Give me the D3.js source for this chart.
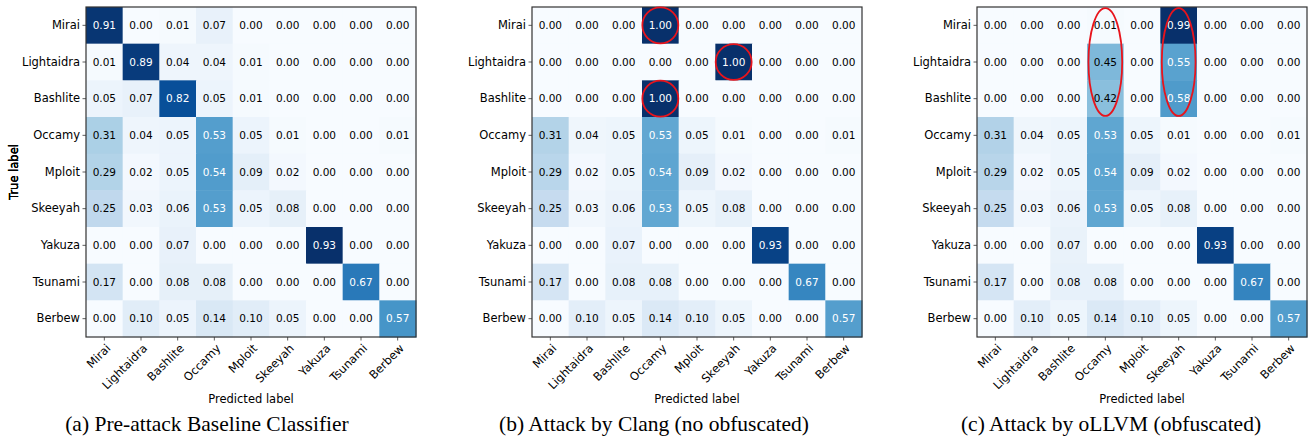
<!DOCTYPE html>
<html>
<head>
<meta charset="UTF-8">
<script src="https://cdn.jsdelivr.net/npm/d3@7"></script>
<style>
    body { margin: 0; background: #fff; }
    svg { display: block; }
    .tick-label, .axis-title { font-family: "DejaVu Sans", sans-serif; font-size: 11.5px; font-weight: normal; fill: #000; }
    .cell-text { font-family: "DejaVu Sans", sans-serif; font-size: 10.5px; }
    .caption { font-family: "Liberation Serif", "Times New Roman", serif; font-size: 21.5px; fill: #000; }
</style>
</head>
<body>
<svg id="chart" width="1311" height="439"></svg>
<script>
// class names, same order on both axes
var labels = ["Mirai", "Lightaidra", "Bashlite", "Occamy", "Mploit", "Skeeyah", "Yakuza", "Tsunami", "Berbew"];

// first three rows differ between the panels
var baselineTop = [
    [0.91, 0.00, 0.01, 0.07, 0.00, 0.00, 0.00, 0.00, 0.00],
    [0.01, 0.89, 0.04, 0.04, 0.01, 0.00, 0.00, 0.00, 0.00],
    [0.05, 0.07, 0.82, 0.05, 0.01, 0.00, 0.00, 0.00, 0.00]
];
var clangTop = [
    [0.00, 0.00, 0.00, 1.00, 0.00, 0.00, 0.00, 0.00, 0.00],
    [0.00, 0.00, 0.00, 0.00, 0.00, 1.00, 0.00, 0.00, 0.00],
    [0.00, 0.00, 0.00, 1.00, 0.00, 0.00, 0.00, 0.00, 0.00]
];
var ollvmTop = [
    [0.00, 0.00, 0.00, 0.01, 0.00, 0.99, 0.00, 0.00, 0.00],
    [0.00, 0.00, 0.00, 0.45, 0.00, 0.55, 0.00, 0.00, 0.00],
    [0.00, 0.00, 0.00, 0.42, 0.00, 0.58, 0.00, 0.00, 0.00]
];
// rows Occamy..Berbew are identical in all three panels
var sharedRows = [
    [0.31, 0.04, 0.05, 0.53, 0.05, 0.01, 0.00, 0.00, 0.01],
    [0.29, 0.02, 0.05, 0.54, 0.09, 0.02, 0.00, 0.00, 0.00],
    [0.25, 0.03, 0.06, 0.53, 0.05, 0.08, 0.00, 0.00, 0.00],
    [0.00, 0.00, 0.07, 0.00, 0.00, 0.00, 0.93, 0.00, 0.00],
    [0.17, 0.00, 0.08, 0.08, 0.00, 0.00, 0.00, 0.67, 0.00],
    [0.00, 0.10, 0.05, 0.14, 0.10, 0.05, 0.00, 0.00, 0.57]
];

var captions = ["(a) Pre-attack Baseline Classifier", "(b) Attack by Clang (no obfuscated)", "(c) Attack by oLLVM (obfuscated)"];

// red highlight marks: row/col of the first cell, how many rows it covers
var clangMarks = [{ row: 0, col: 3, span: 1 }, { row: 1, col: 5, span: 1 }, { row: 2, col: 3, span: 1 }];
var ollvmMarks = [{ row: 0, col: 3, span: 3 }, { row: 0, col: 5, span: 3 }];

var panels = [
    { matrix: baselineTop.concat(sharedRows), caption: captions[0], marks: [], left: 86, capX: 207 },
    { matrix: clangTop.concat(sharedRows), caption: captions[1], marks: clangMarks, left: 532, capX: 654 },
    { matrix: ollvmTop.concat(sharedRows), caption: captions[2], marks: ollvmMarks, left: 977, capX: 1111 }
];

// matplotlib "Blues" (piecewise linear over the colorbrewer stops)
var bluesStops = ["#f7fbff", "#deebf7", "#c6dbef", "#9ecae1", "#6baed6", "#4292c6", "#2171b5", "#08519c", "#08306b"];
var blues = d3.scaleLinear()
    .domain(d3.range(bluesStops.length).map(function (i) { return i / (bluesStops.length - 1); }))
    .range(bluesStops)
    .interpolate(d3.interpolateRgb)
    .clamp(true);

var size = 330;
var topY = 7;
var svg = d3.select("#chart");

panels.forEach(function (p) {
    var x = d3.scaleBand().domain(labels).range([0, size]);
    var y = d3.scaleBand().domain(labels).range([0, size]);
    var vmax = d3.max(p.matrix, function (r) { return d3.max(r); });
    var color = function (v) { return blues(v / vmax); };

    var g = svg.append("g").attr("transform", "translate(" + p.left + "," + topY + ")");

    var cells = [];
    p.matrix.forEach(function (row, i) {
        row.forEach(function (v, j) {
            cells.push({ r: labels[i], c: labels[j], v: v });
        });
    });

    g.selectAll("rect.cell")
        .data(cells)
        .enter()
        .append("rect")
        .attr("class", "cell")
        .attr("x", function (d) { return x(d.c); })
        .attr("y", function (d) { return y(d.r); })
        .attr("width", x.bandwidth() + 0.5)
        .attr("height", y.bandwidth() + 0.5)
        .attr("fill", function (d) { return color(d.v); });

    g.selectAll("text.cell-text")
        .data(cells)
        .enter()
        .append("text")
        .attr("class", "cell-text")
        .attr("x", function (d) { return x(d.c) + x.bandwidth() / 2; })
        .attr("y", function (d) { return y(d.r) + y.bandwidth() / 2 - 0.5; })
        .attr("text-anchor", "middle")
        .attr("dominant-baseline", "central")
        .attr("fill", function (d) { return d.v > vmax / 2 ? "#fff" : "#000"; })
        .text(function (d) { return d.v.toFixed(2); });

    // frame
    g.append("rect")
        .attr("x", 0).attr("y", 0)
        .attr("width", size).attr("height", size)
        .attr("fill", "none")
        .attr("stroke", "#333")
        .attr("stroke-width", 1.2);

    // y axis
    var yAxis = g.append("g")
        .call(d3.axisLeft(y).tickSize(3.5).tickPadding(2.5));
    yAxis.select(".domain").remove();
    yAxis.selectAll("line").attr("stroke", "#333").attr("stroke-width", 0.8);
    yAxis.selectAll("text").attr("class", "tick-label").attr("font-size", null).attr("font-family", null);

    // x axis with rotated labels
    var xAxis = g.append("g")
        .attr("transform", "translate(0," + size + ")")
        .call(d3.axisBottom(x).tickSize(3.5));
    xAxis.select(".domain").remove();
    xAxis.selectAll("line").attr("stroke", "#333").attr("stroke-width", 0.8);
    xAxis.selectAll("text")
        .attr("class", "tick-label")
        .attr("font-size", null).attr("font-family", null)
        .attr("y", null).attr("dy", null)
        .attr("transform", "translate(7,12) rotate(-45)")
        .attr("text-anchor", "end");

    // axis titles
    g.append("text")
        .attr("class", "axis-title")
        .attr("x", size / 2)
        .attr("y", 396)
        .attr("text-anchor", "middle")
        .text("Predicted label");

    g.append("text")
        .attr("class", "axis-title")
        .attr("transform", "translate(" + (-p.left + 18) + "," + (size / 2) + ") rotate(-90)")
        .attr("text-anchor", "middle")
        .text("True label");

    // red highlights
    g.selectAll("ellipse.mark")
        .data(p.marks)
        .enter()
        .append("ellipse")
        .attr("class", "mark")
        .attr("cx", function (d) { return x(labels[d.col]) + x.bandwidth() / 2; })
        .attr("cy", function (d) { return y(labels[d.row]) + y.bandwidth() * d.span / 2; })
        .attr("rx", function (d) { return x.bandwidth() * (d.span > 1 ? 0.46 : 0.49); })
        .attr("ry", function (d) { return y.bandwidth() * (d.span > 1 ? d.span * 0.49 : 0.49); })
        .attr("fill", "none")
        .attr("stroke", "#e8141c")
        .attr("stroke-width", 1.8);

    // caption
    svg.append("text")
        .attr("class", "caption")
        .attr("x", p.capX)
        .attr("y", 431)
        .attr("text-anchor", "middle")
        .text(p.caption);
});
</script>
</body>
</html>
